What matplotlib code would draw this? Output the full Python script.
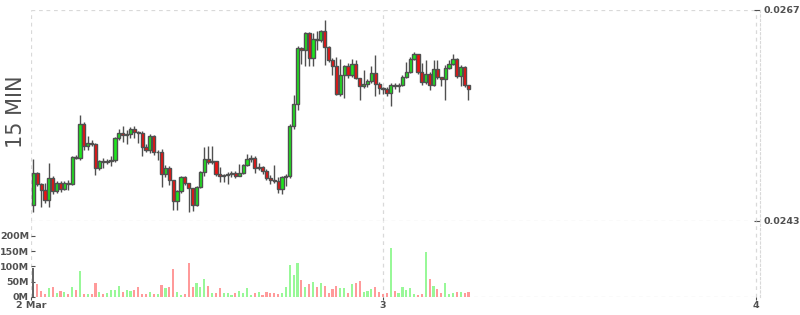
import numpy as np
import pandas as pd
import matplotlib
matplotlib.use('Agg')
from matplotlib import pyplot as plt

# 15 min candles
open_first = 0.02448
close = [0.02485, 0.02472, 0.02465, 0.02454, 0.02479, 0.02464, 0.02473, 0.02466, 0.02473, 0.02472,
         0.02503, 0.02502, 0.02540, 0.02515, 0.02519, 0.02518, 0.02490, 0.02498, 0.02497, 0.02498,
         0.02499, 0.02524, 0.02530, 0.02528, 0.02529, 0.02535, 0.02531, 0.02530,
         0.02514, 0.02511, 0.02527, 0.02508, 0.02509, 0.02483, 0.02490, 0.02477, 0.02453, 0.02464,
         0.02480, 0.02473, 0.02468, 0.02448, 0.02469, 0.02486, 0.02501, 0.02497, 0.02498, 0.02483,
         0.02481, 0.02482, 0.02483, 0.02485, 0.02481, 0.02485, 0.02494, 0.02501,
         0.02502, 0.02490, 0.02491, 0.02487, 0.02479, 0.02477, 0.02476, 0.02466, 0.02480, 0.02481,
         0.02538, 0.02563, 0.02627, 0.02625, 0.02644, 0.02615, 0.02637, 0.02636, 0.02646, 0.02628,
         0.02613, 0.02606, 0.02574, 0.02596, 0.02606, 0.02596, 0.02609, 0.02593, 0.02584,
         0.02586, 0.02589, 0.02598, 0.02586, 0.02581, 0.02580, 0.02576, 0.02585, 0.02584, 0.02585,
         0.02594, 0.02599, 0.02614, 0.02620, 0.02599, 0.02588, 0.02597, 0.02585, 0.02603, 0.02594,
         0.02592, 0.02604, 0.02609, 0.02614, 0.02595, 0.02605, 0.02585, 0.02580]
high = [0.02501, 0.02486, 0.02473, 0.02473, 0.02496, 0.02481, 0.02475, 0.02475, 0.02475, 0.02477,
        0.02504, 0.02505, 0.02551, 0.02543, 0.02527, 0.02522, 0.02519, 0.02499, 0.02502, 0.02501,
        0.02504, 0.02526, 0.02535, 0.02538, 0.02533, 0.02537, 0.02538, 0.02532,
        0.02532, 0.02518, 0.02529, 0.02528, 0.02511, 0.02512, 0.02494, 0.02493, 0.02477, 0.02465,
        0.02481, 0.02481, 0.02473, 0.02468, 0.02470, 0.02487, 0.02514, 0.02515, 0.02515, 0.02498,
        0.02491, 0.02483, 0.02486, 0.02487, 0.02487, 0.02495, 0.02495, 0.02506,
        0.02505, 0.02504, 0.02496, 0.02493, 0.02489, 0.02482, 0.02494, 0.02480, 0.02481, 0.02483,
        0.02540, 0.02573, 0.02629, 0.02628, 0.02645, 0.02645, 0.02644, 0.02646, 0.02647, 0.02659,
        0.02629, 0.02615, 0.02617, 0.02614, 0.02607, 0.02610, 0.02614, 0.02613, 0.02593,
        0.02602, 0.02592, 0.02606, 0.02619, 0.02588, 0.02582, 0.02582, 0.02587, 0.02587, 0.02587,
        0.02596, 0.02611, 0.02617, 0.02622, 0.02620, 0.02610, 0.02613, 0.02599, 0.02613, 0.02613,
        0.02594, 0.02607, 0.02613, 0.02620, 0.02615, 0.02607, 0.02606, 0.02585]
low = [0.02440, 0.02470, 0.02446, 0.02450, 0.02446, 0.02461, 0.02462, 0.02463, 0.02465, 0.02465,
       0.02471, 0.02501, 0.02499, 0.02511, 0.02511, 0.02515, 0.02482, 0.02488, 0.02490, 0.02495,
       0.02493, 0.02497, 0.02522, 0.02520, 0.02518, 0.02524, 0.02524, 0.02519,
       0.02504, 0.02508, 0.02507, 0.02505, 0.02499, 0.02469, 0.02480, 0.02471, 0.02443, 0.02443,
       0.02462, 0.02471, 0.02440, 0.02441, 0.02447, 0.02468, 0.02481, 0.02495, 0.02495, 0.02481,
       0.02474, 0.02474, 0.02472, 0.02480, 0.02479, 0.02481, 0.02483, 0.02493,
       0.02497, 0.02485, 0.02488, 0.02483, 0.02477, 0.02472, 0.02473, 0.02462, 0.02461, 0.02470,
       0.02479, 0.02535, 0.02556, 0.02609, 0.02606, 0.02606, 0.02606, 0.02625, 0.02634, 0.02607,
       0.02611, 0.02596, 0.02573, 0.02572, 0.02570, 0.02593, 0.02594, 0.02592, 0.02568,
       0.02581, 0.02582, 0.02587, 0.02572, 0.02574, 0.02574, 0.02572, 0.02561, 0.02580, 0.02577,
       0.02584, 0.02593, 0.02598, 0.02613, 0.02597, 0.02585, 0.02586, 0.02579, 0.02584, 0.02592,
       0.02584, 0.02568, 0.02603, 0.02607, 0.02593, 0.02584, 0.02582, 0.02568]
# volume in millions
volume = [95, 42, 19, 9, 29, 32, 12, 19, 15, 9, 32, 22, 85, 9, 9, 9, 45, 15, 9, 12,
          22, 22, 35, 15, 22, 19, 22, 32,
          11, 9, 15, 9, 11, 38, 29, 32, 91, 15, 5, 9, 111, 32, 45, 32, 58, 35, 12, 12,
          29, 12, 12, 5, 12, 19, 12, 29,
          6, 13, 16, 6, 16, 13, 13, 10, 13, 33, 104, 72, 111, 55, 33, 42, 49, 33, 46, 36,
          13, 26, 36, 29, 29, 13, 42, 46, 52,
          16, 20, 26, 33, 16, 10, 13, 160, 20, 13, 33, 23, 29, 10, 6, 10, 147, 59, 36, 26,
          13, 46, 10, 13, 16, 16, 13, 16]

price_ticks = [0.0243, 0.0267]
vol_ticks = [0, 50, 100, 150, 200]
day_labels = ['2 Mar', '3', '4']

# positions in 15 minute steps
times = pd.date_range('2020-03-02 01:30', periods=len(close), freq='15min')
step = pd.Timedelta('15min')
x = np.asarray((times - times[0]) / step, dtype=float)
day_x = [(pd.Timestamp(d) - times[0]) / step for d in ['2020-03-03', '2020-03-04']]

close = np.array(close)
opn = np.concatenate([[open_first], close[:-1]])
high = np.array(high)
low = np.array(low)
up = close >= opn

GRAY = '#505050'
GRID = '#d9d9d9'
dash = (0, (3, 3))
LSIZE = 6.8

fig = plt.figure(figsize=(8, 3.15), dpi=100)
axp = fig.add_axes([31/800, 1 - 221/315, 729/800, 211/315])
axv = fig.add_axes([31/800, 1 - 297/315, 729/800, 76/315], sharex=axp)

# candles
axp.vlines(x, low, high, color=GRAY, lw=1, zorder=2)
axp.bar(x, np.abs(close - opn), bottom=np.minimum(opn, close), width=0.82,
        color=np.where(up, '#1ee61e', '#f01010'), edgecolor=GRAY, linewidth=1.0, zorder=3)

# volume
vcol = list(np.where(up, '#98f898', '#ff9a9a'))
vcol[0] = '#666666'
axv.bar(x, volume, width=0.55, color=vcol, linewidth=0, zorder=2)

left = -0.6
axp.set_xlim(left, 187.03)
axp.set_ylim(price_ticks[0], price_ticks[1])
axv.set_ylim(0, 249)

axp.yaxis.tick_right()
axp.set_yticks(price_ticks)
axp.set_yticklabels(['%.4f' % p for p in price_ticks])
axp.tick_params(axis='y', direction='in', length=4, color=GRAY, pad=2.5,
                labelsize=LSIZE, labelcolor=GRAY)
axp.tick_params(axis='x', length=0, labelbottom=False)
for lab in axp.get_yticklabels():
    lab.set_fontweight('bold')

axv.set_xticks([left] + day_x)
axv.set_xticklabels(day_labels)
axv.set_yticks(vol_ticks)
axv.set_yticklabels(['%dM' % v for v in vol_ticks])
axv.tick_params(axis='y', direction='in', length=3, color=GRAY, pad=1.5,
                labelsize=LSIZE, labelcolor=GRAY)
axv.tick_params(axis='x', direction='out', length=2.5, color=GRAY, pad=0.5,
                labelsize=LSIZE, labelcolor=GRAY)
for lab in axv.get_yticklabels() + axv.get_xticklabels():
    lab.set_fontweight('bold')

for ax in (axp, axv):
    ax.grid(True, axis='x', linestyle=dash, color=GRID, lw=0.9, zorder=0)
    for s in ('top', 'bottom', 'left'):
        ax.spines[s].set_visible(False)
    ax.spines['right'].set_linestyle((0, (2, 2)))
    ax.spines['right'].set_color(GRID)
    ax.set_facecolor('none')
axp.grid(True, axis='y', linestyle=dash, color=GRID, lw=0.9, zorder=0)
axv.axhline(0, linestyle=dash, color=GRID, lw=0.9, zorder=1)

fig.text(16/800, 1 - 112/315, '15 MIN', rotation=90, ha='center', va='center',
         fontsize=15, color=GRAY)

fig.savefig('out.png', dpi=100)
